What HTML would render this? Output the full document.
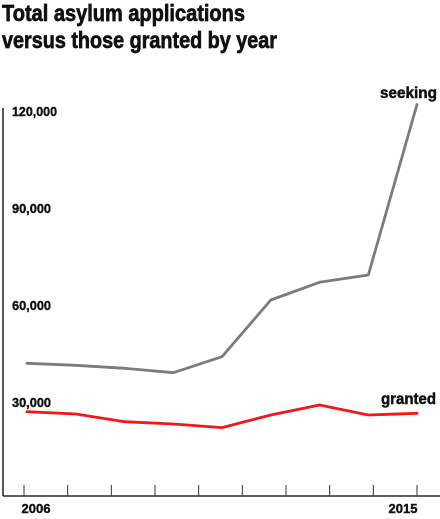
<!DOCTYPE html>
<html><head><meta charset="utf-8"><style>
html,body{margin:0;padding:0;background:#fff;}
svg{display:block;font-family:"Liberation Sans",sans-serif;}
</style></head><body>
<svg id="chart" width="440" height="519" viewBox="0 0 440 519" xmlns="http://www.w3.org/2000/svg">
<g font-weight="bold" font-size="23" fill="#111" stroke="#111" stroke-width="0.7">
<text x="2" y="21" textLength="243" lengthAdjust="spacingAndGlyphs">Total asylum applications</text>
<text x="2" y="48" textLength="275" lengthAdjust="spacingAndGlyphs">versus those granted by year</text>
</g>
<g id="axes"></g>
<g id="series"></g>
</svg>
<script>
const years = [2006, 2015];
const yTicks = [30000, 60000, 90000, 120000];
const yTickLabels = ["30,000", "60,000", "90,000", "120,000"];
const seeking = [41970, 41350, 40420, 39070, 44020, 61550, 67020, 69280, 122000];
const granted = [27010, 26290, 23920, 23200, 22070, 25980, 29070, 25980, 26500];

const NS = "http://www.w3.org/2000/svg";
const x0 = 24, x1 = 417, axisY = 496;
function yScale(v){ return 499 - v * 97 / 30000; }
function xTick(i){ return x0 + (x1 - x0) * i / 9; }
function xPoint(i, n){ return x0 + 3 + (x1 - 3 - x0) * i / (n - 1); }
function el(tag, attrs, parent){
  const e = document.createElementNS(NS, tag);
  for (const k in attrs) e.setAttribute(k, attrs[k]);
  parent.appendChild(e);
  return e;
}
const axes = document.getElementById('axes');
const series = document.getElementById('series');

const yAxis = el('line', {x1:3, y1:108, x2:3, y2:axisY, stroke:'#000', 'stroke-width':1.3}, axes);


const xAxis = el('line', {x1:3, y1:axisY, x2:440, y2:axisY, stroke:'#000', 'stroke-width':1.3}, axes);



for (let i = 0; i < 10; i++){
  const t = el('line', {x1:xTick(i), y1:485, x2:xTick(i), y2:axisY, stroke:'#333', 'stroke-width':1}, axes);
  
  
}
years.forEach((yr, j) => {
  const xi = j === 0 ? xTick(0) + 12 : xTick(9) - 14;
  const t = el('text', {x:xi, y:513, 'text-anchor':'middle', 'font-size':13, 'font-weight':'bold', fill:'#111', stroke:'#111', 'stroke-width':0.4}, axes);
  t.textContent = yr;
  
  
});
yTicks.forEach((v, j) => {
  const t = el('text', {x:12, y:yScale(v) + 5, 'font-size':13, 'font-weight':'bold', fill:'#111', stroke:'#111', 'stroke-width':0.4, textLength: yTickLabels[j].length > 6 ? 45 : 39, lengthAdjust:'spacingAndGlyphs'}, axes);
  t.textContent = yTickLabels[j];
  
  
});

function drawLine(vals, color, name){
  const pts = vals.map((v, i) => xPoint(i, vals.length).toFixed(1) + ',' + yScale(v).toFixed(1)).join(' ');
  const p = el('polyline', {points:pts, fill:'none', stroke:color, 'stroke-width':2.8, 'stroke-linejoin':'round', 'stroke-linecap':'round'}, series);
  
  
}
drawLine(seeking, '#7b7b7b', 'seeking-line');
drawLine(granted, '#f01818', 'granted-line');

const l1 = el('text', {x:437, y:98, 'text-anchor':'end', 'font-size':16, 'font-weight':'bold', fill:'#111', stroke:'#111', 'stroke-width':0.5, textLength:57, lengthAdjust:'spacingAndGlyphs'}, series);
l1.textContent = 'seeking';


const l2 = el('text', {x:436, y:404, 'text-anchor':'end', 'font-size':16, 'font-weight':'bold', fill:'#111', stroke:'#111', 'stroke-width':0.5, textLength:55, lengthAdjust:'spacingAndGlyphs'}, series);
l2.textContent = 'granted';


</script>
</body></html>
